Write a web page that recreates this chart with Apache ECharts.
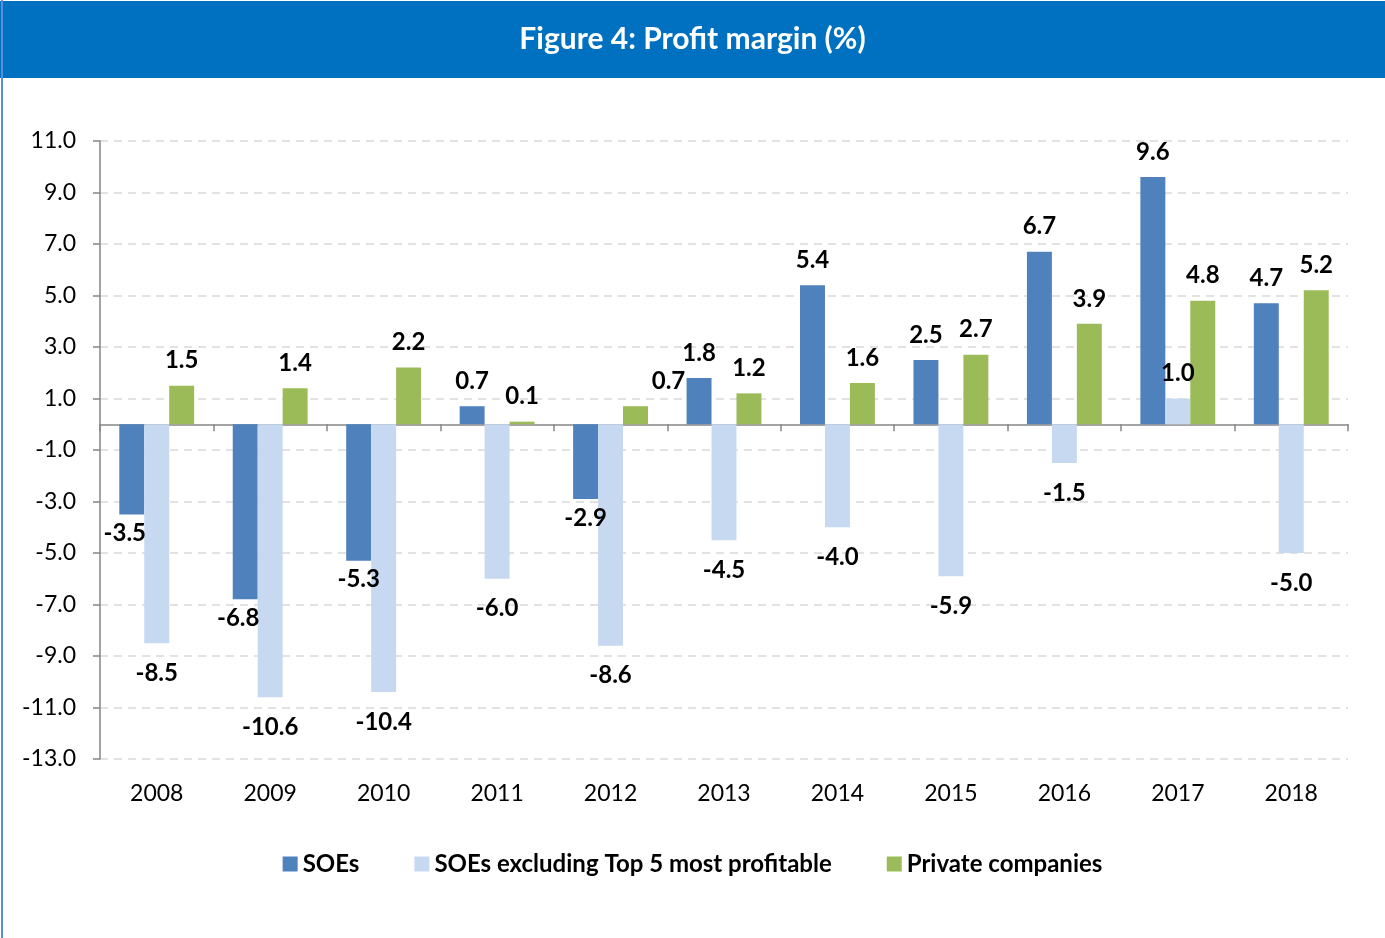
<!DOCTYPE html>
<html>
<head>
    <meta charset="utf-8" />
    <script type="text/javascript" src="https://cdn.jsdelivr.net/npm/echarts@6/dist/echarts.min.js"></script>
    <title>Figure 4: Profit margin (%)</title>
    <style>
        html, body { margin: 0; padding: 0; background: #fff; }
        #main { width: 1385px; height: 938px; }
    </style>
</head>
<body>
    <div id="main"></div>
    <script type="text/javascript">
    // 数据
    var years = ['2008', '2009', '2010', '2011', '2012', '2013', '2014', '2015', '2016', '2017', '2018'];
    var soes = [-3.5, -6.8, -5.3, 0.7, -2.9, 1.8, 5.4, 2.5, 6.7, 9.6, 4.7];
    var soesExTop5 = [-8.5, -10.6, -10.4, -6.0, -8.6, -4.5, -4.0, -5.9, -1.5, 1.0, -5.0];
    var privateCos = [1.5, 1.4, 2.2, 0.1, 0.7, 1.2, 1.6, 2.7, 3.9, 4.8, 5.2];
    var seriesNames = ['SOEs', 'SOEs excluding Top 5 most profitable', 'Private companies'];

    var font = 'Lato, "Liberation Sans", sans-serif';
    var myChart = echarts.init(document.getElementById('main'));

    // 正值标签在上，负值标签在下；negDist 为负值标签的间距
    function withLabels(arr, negDist, shifts) {
        return arr.map(function (v, i) {
            var lbl = { position: v < 0 ? 'bottom' : 'top', distance: v < 0 ? negDist : 13 };
            if (shifts && shifts[i]) lbl.offset = shifts[i];
            return { value: v, label: lbl };
        });
    }

    function barSeries(name, data, color) {
        return {
            name: name,
            type: 'bar',
            xAxisIndex: 0,
            data: data,
            barGap: '0%',
            barCategoryGap: '34%',
            itemStyle: { color: color },
            label: {
                show: true,
                fontFamily: font,
                fontWeight: 'bold',
                fontSize: 24,
                color: '#000',
                formatter: function (p) { return p.value.toFixed(1); }
            }
        };
    }

    var option = {
        animation: false,
        graphic: [
            { type: 'rect', left: 0, top: 1, shape: { width: 1385, height: 77 }, style: { fill: '#0070C0' } },
            { type: 'rect', left: 1, top: 0, shape: { width: 2, height: 938 }, style: { fill: '#5B8ED6' } },
            {
                type: 'text', left: 'center', top: 24,
                style: { text: 'Figure 4: Profit margin (%)', fill: '#fff', font: 'bold 30px ' + font }
            }
        ],
        legend: {
            bottom: 57,
            left: 'center',
            icon: 'rect',
            itemWidth: 15,
            itemHeight: 15,
            itemGap: 55,
            textStyle: { fontFamily: font, fontWeight: 'bold', fontSize: 24, color: '#000' },
            data: seriesNames
        },
        grid: { left: 100, right: 37, top: 141, bottom: 179 },
        xAxis: [{
            type: 'category',
            data: years,
            axisLine: { onZero: true, lineStyle: { color: '#868686', width: 1.5 } },
            axisTick: { show: true, length: 7, lineStyle: { color: '#868686', width: 1.5 } },
            axisLabel: { show: false },
            splitLine: { show: false }
        }, {
            type: 'category',
            position: 'bottom',
            data: years,
            axisLine: { show: false, onZero: false },
            axisTick: { show: false },
            axisLabel: { margin: 23, fontFamily: font, fontSize: 23, color: '#000' },
            splitLine: { show: false }
        }],
        yAxis: {
            type: 'value',
            min: -13,
            max: 11,
            interval: 2,
            axisLine: { show: true, lineStyle: { color: '#868686', width: 1.5 } },
            axisTick: { show: true, length: 7, lineStyle: { color: '#868686', width: 1.5 } },
            axisLabel: {
                margin: 24,
                fontFamily: font,
                fontSize: 23,
                color: '#000',
                formatter: function (v) { return v.toFixed(1); }
            },
            splitLine: { lineStyle: { color: '#D9D9D9', type: [8, 6], width: 1.5 } }
        },
        series: [
            barSeries(seriesNames[0], withLabels(soes, 7, { 0: [-7, 0], 1: [-7, 0] }), '#4F81BD'),
            barSeries(seriesNames[1], withLabels(soesExTop5, 18), '#C6D9F1'),
            barSeries(seriesNames[2], withLabels(privateCos, 18, { 4: [33, 0] }), '#9BBB59')
        ]
    };
    myChart.setOption(option);
    </script>
</body>
</html>
